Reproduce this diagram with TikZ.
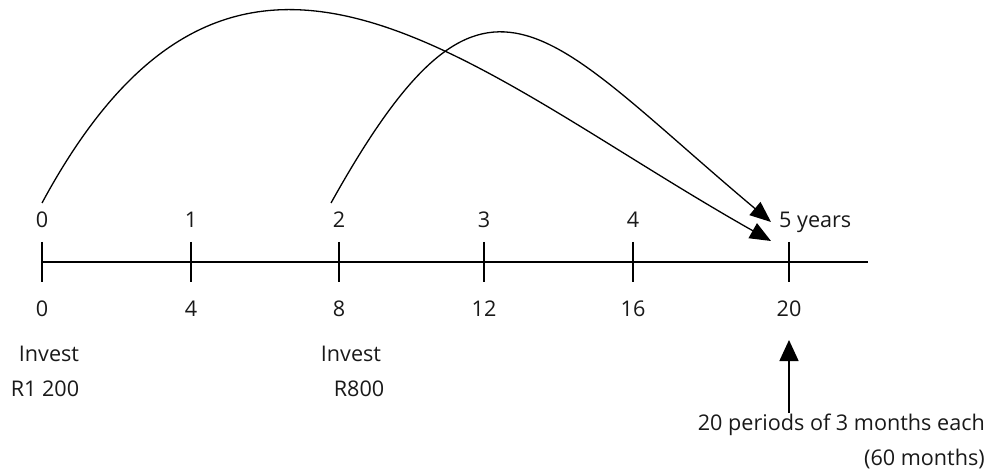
\documentclass[tikz,border=0pt]{standalone}
\usepackage{fontspec}
\setmainfont{Open Sans}
\usetikzlibrary{arrows.meta}
\begin{document}
\begin{tikzpicture}[x=1pt,y=-1pt,
  lbl/.style={inner sep=0pt, anchor=base, font=\fontsize{21.6}{25}\selectfont, text=black!90},
  axis/.style={line width=1.8pt},
  curve/.style={line width=1.3pt, -{Triangle[length=21pt,width=17pt]}},
  uparrow/.style={line width=1.5pt, -{Triangle[length=21pt,width=19pt]}},
]
\useasboundingbox (0,0) rectangle (988,470);
% axis
\coordinate (axL) at (42,262);
\coordinate (axR) at (868,262);
\draw[axis] (axL) -- (axR);
\foreach \i/\x in {0/42,1/191,2/339,3/484,4/633,5/789}{
  \coordinate (tk\i a) at (\x,242);
  \coordinate (tk\i b) at (\x,282);
  \draw[axis] (tk\i a) -- (tk\i b);
}
% top labels
\node[lbl] (y0) at (42,227.5) {0};
\node[lbl] (y1) at (191,227.5) {1};
\node[lbl] (y2) at (339,227.5) {2};
\node[lbl] (y3) at (484,227.5) {3};
\node[lbl] (y4) at (633,227.5) {4};
\node[lbl, anchor=base west] (y5) at (779,227.5) {5 years};
% bottom labels
\node[lbl] (q0) at (42,317) {0};
\node[lbl] (q4) at (191,317) {4};
\node[lbl] (q8) at (339,317) {8};
\node[lbl] (q12) at (484,317) {12};
\node[lbl] (q16) at (633,317) {16};
\node[lbl] (q20) at (789,317) {20};
% invest labels
\node[lbl] (inv1) at (49,361.5) {Invest};
\node[lbl] (amt1) at (45,396.5) {R1 200};
\node[lbl] (inv2) at (351,361.5) {Invest};
\node[lbl] (amt2) at (359,396.5) {R800};
% periods note
\node[lbl, anchor=base east] (per1) at (985,430.5) {20 periods of 3 months each};
\node[lbl, anchor=base east] (per2) at (985,465.5) {(60 months)};
\coordinate (upS) at (789,413);
\coordinate (upE) at (789,340);
\draw[uparrow] (upS) -- (upE);
% curves
\coordinate (c1s) at (42,203);
\coordinate (c1e) at (771,241);
\coordinate (c2s) at (331,203);
\coordinate (c2e) at (771,222);
\draw[curve] (c1s) .. controls (238,-160) and (468,70) .. (c1e);
\draw[curve] (c2s) .. controls (486,-75) and (541,29) .. (c2e);
\end{tikzpicture}
\end{document}
